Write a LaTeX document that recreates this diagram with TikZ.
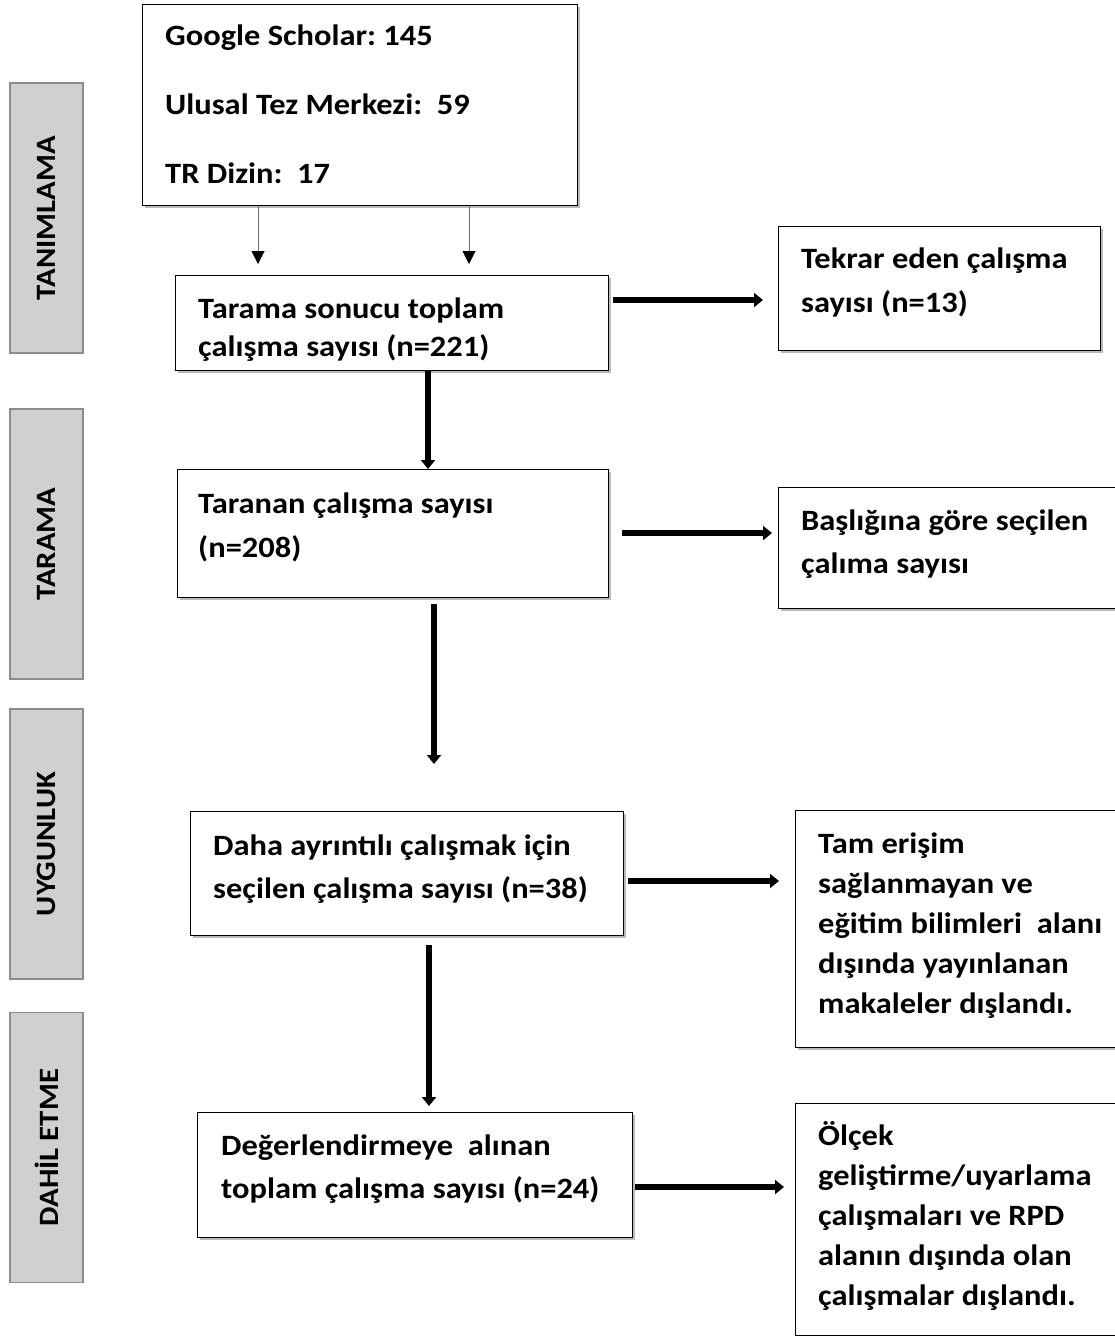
\documentclass[tikz,border=0pt]{standalone}
\usepackage{fontspec}
\setmainfont{Carlito}[FakeStretch=1.1]
\usetikzlibrary{arrows.meta,shadows}
\definecolor{sidefill}{RGB}{208,208,208}
\definecolor{sidedraw}{RGB}{140,140,140}
\definecolor{thingray}{RGB}{110,110,110}
\newcommand{\mytxt}[2]{\parbox[t]{600pt}{\raggedright\fontsize{29.5}{#1}\selectfont\bfseries\frenchspacing #2}}
\begin{document}
\begin{tikzpicture}[x=1pt,y=-1pt,
  box/.style={draw=black, line width=1.3pt, fill=white, inner sep=0pt, anchor=north west,
    drop shadow={shadow xshift=2.5pt, shadow yshift=-2.5pt, fill=gray!55, opacity=1}},
  side/.style={draw=sidedraw, fill=sidefill, line width=1.5pt, inner sep=0pt, anchor=center, rotate=90,
    minimum width=270pt, minimum height=73pt, font=\fontsize{28}{32}\selectfont\bfseries},
  txt/.style={inner sep=0pt, anchor=base west},
  bigarrow/.style={line width=5.5pt, -{Triangle[length=9pt,width=14pt]}},
  thinarrow/.style={draw=thingray, line width=1pt, -{Triangle[length=13pt,width=13pt,color=black]}}]
\useasboundingbox (0,0) rectangle (1115,1336);
\fill[white] (0,0) rectangle (1115,1336);

% side labels
\node[side] (s1) at (46.5,218) {TANIMLAMA};
\node[side] (s2) at (46.5,544) {TARAMA};
\node[side] (s3) at (46.5,844) {UYGUNLUK};
\node[side] (s4) at (46.5,1147.5) {DAHİL ETME};

% main column boxes
\node[box, minimum width=435pt, minimum height=201pt] (src) at (142,4) {};
\node[box, minimum width=433pt, minimum height=95pt] (tarama) at (175,275) {};
\node[box, minimum width=431pt, minimum height=128pt] (taranan) at (177,469) {};
\node[box, minimum width=433pt, minimum height=124pt] (daha) at (190,811) {};
\node[box, minimum width=435pt, minimum height=125pt] (deg) at (197,1112) {};

% right column boxes
\node[box, minimum width=322pt, minimum height=124pt] (tekrar) at (778,226) {};
\node[box, minimum width=345pt, minimum height=121pt] (baslik) at (778,487) {};
\node[box, minimum width=330pt, minimum height=237pt] (tam) at (795,810) {};
\node[box, minimum width=330pt, minimum height=232pt] (olcek) at (795,1103) {};

% texts
\node[txt] (t-src) at (165,45) {\mytxt{69}{Google Scholar: 145\\Ulusal Tez Merkezi:\ \ 59\\TR Dizin:\ \ 17}};
\node[txt] (t-tarama) at (198,318) {\mytxt{38}{Tarama sonucu toplam\\çalışma sayısı (n=221)}};
\node[txt] (t-taranan) at (198,513) {\mytxt{44}{Taranan çalışma sayısı\\(n=208)}};
\node[txt] (t-daha) at (213,855) {\mytxt{43}{Daha ayrıntılı çalışmak için\\seçilen çalışma sayısı (n=38)}};
\node[txt] (t-deg) at (221,1155) {\mytxt{43}{Değerlendirmeye\ \ alınan\\toplam çalışma sayısı (n=24)}};
\node[txt] (t-tekrar) at (801,268) {\mytxt{44}{Tekrar eden çalışma\\sayısı (n=13)}};
\node[txt] (t-baslik) at (801,530) {\mytxt{43}{Başlığına göre seçilen\\çalıma sayısı}};
\node[txt] (t-tam) at (818,853) {\mytxt{40}{Tam erişim\\sağlanmayan ve\\eğitim bilimleri\ \ alanı\\dışında yayınlanan\\makaleler dışlandı.}};
\node[txt] (t-olcek) at (818,1145) {\mytxt{40}{Ölçek\\geliştirme/uyarlama\\çalışmaları ve RPD\\alanın dışında olan\\çalışmalar dışlandı.}};

% connectors
\draw[thinarrow, shorten >=11pt] (src.south -| 258,0) -- (tarama.north -| 258,0);
\draw[thinarrow, shorten >=11pt] (src.south -| 469,0) -- (tarama.north -| 469,0);
\draw[bigarrow, shorten <=3.5pt, shorten >=15pt] (tarama.east |- 0,300) -- (tekrar.west |- 0,300);
\draw[bigarrow] (tarama.south -| 428,0) -- (taranan.north -| 428,0);
\draw[bigarrow, shorten <=13pt, shorten >=6pt] (taranan.east |- 0,533) -- (baslik.west |- 0,533);
\coordinate (gap1) at (434,764);
\draw[bigarrow, shorten <=6pt] (taranan.south -| 434,0) -- (gap1);
\draw[bigarrow, shorten <=3.5pt, shorten >=16pt] (daha.east |- 0,881) -- (tam.west |- 0,881);
\draw[bigarrow, shorten <=9pt, shorten >=6pt] (daha.south -| 429,0) -- (deg.north -| 429,0);
\draw[bigarrow, shorten <=1.5pt, shorten >=11pt] (deg.east |- 0,1187) -- (olcek.west |- 0,1187);
\end{tikzpicture}
\end{document}
